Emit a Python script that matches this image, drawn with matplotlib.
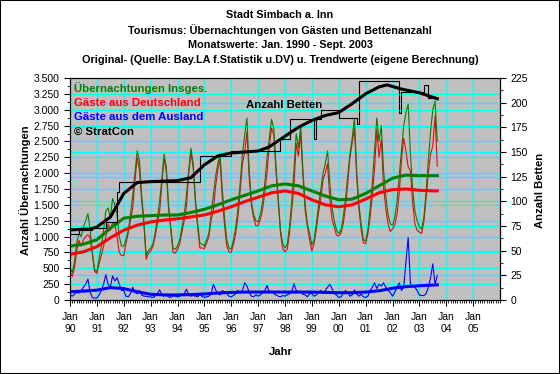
import numpy as np
import matplotlib
matplotlib.use("Agg")
import matplotlib.pyplot as plt
from matplotlib.patches import Rectangle
from matplotlib.ticker import FuncFormatter, MultipleLocator

plt.rcParams['font.family'] = ['Liberation Sans', 'DejaVu Sans']

# Monatswerte Jan 1990 - Sept 2003
insges = [
    520, 430, 600, 900, 1050, 1000, 1150, 1250, 1360, 1100, 750, 480,      # 1990
    450, 650, 850, 1100, 1400, 1450, 1300, 1600, 1500, 1350, 1000, 850,    # 1991
    850, 950, 1100, 1350, 1650, 2000, 2350, 2200, 1650, 1250, 700, 780,    # 1992
    820, 880, 1050, 1300, 1550, 1900, 2300, 2100, 1500, 1150, 820, 800,    # 1993
    850, 950, 1150, 1350, 1650, 2050, 2390, 2150, 1600, 1200, 900, 880,    # 1994
    850, 950, 1050, 1350, 1650, 1950, 2150, 2300, 1750, 1300, 950, 820,    # 1995
    800, 950, 1150, 1450, 1850, 2300, 2600, 2870, 2050, 1550, 1350, 1250,  # 1996
    1230, 1350, 1550, 1850, 2250, 2550, 2850, 2700, 2100, 1600, 1100, 880, # 1997
    820, 880, 1150, 1550, 2050, 2620, 2400, 2740, 2050, 1500, 1200, 1050,  # 1998
    870, 950, 1200, 1500, 1750, 2000, 2150, 2350, 1850, 1450, 1250, 1100,  # 1999
    1050, 1100, 1300, 1600, 1950, 2300, 2550, 2870, 2050, 1500, 1200, 950, # 2000
    930, 1100, 1450, 1850, 2350, 2870, 2500, 2750, 2050, 1650, 1350, 1200, # 2001
    1180, 1300, 1550, 1950, 2350, 2750, 2950, 3090, 2300, 1750, 1400, 1250,# 2002
    1150, 1120, 1300, 1700, 2200, 2650, 3000, 3140, 2500,                  # 2003
]
deutschland = [
    440, 370, 510, 780, 940, 850, 950, 1000, 1030, 980, 710, 450,
    420, 570, 700, 850, 1000, 1200, 1100, 1220, 1200, 1000, 750, 700,
    700, 890, 1050, 1250, 1450, 1880, 2250, 2050, 1570, 1190, 640, 730,
    770, 840, 990, 1200, 1390, 1810, 2240, 2020, 1450, 1110, 750, 740,
    800, 890, 1070, 1250, 1480, 1970, 2330, 2080, 1540, 1150, 820, 820,
    810, 900, 990, 1260, 1400, 1790, 2050, 2220, 1600, 1180, 850, 760,
    750, 880, 1050, 1300, 1730, 2150, 2330, 2650, 1930, 1490, 1300, 1170,
    1170, 1270, 1430, 1700, 2020, 2430, 2710, 2600, 2020, 1540, 1050, 810,
    760, 800, 1050, 1420, 1790, 2470, 2270, 2620, 1960, 1420, 1150, 950,
    770, 890, 1120, 1380, 1600, 1900, 2000, 2150, 1600, 1270, 1150, 1020,
    1010, 1050, 1200, 1450, 1830, 2240, 2470, 2710, 1950, 1440, 1110, 900,
    890, 1040, 1300, 1650, 2080, 2690, 2250, 2530, 1780, 1450, 1200, 1080,
    1120, 1180, 1350, 1680, 2200, 2550, 2350, 2100, 2040, 1530, 1200, 1100,
    1070, 1050, 1230, 1600, 2000, 2300, 2430, 2900, 2110,
]
ausland = [
    80, 60, 90, 120, 110, 150, 200, 250, 330, 120, 40, 30,
    30, 80, 150, 250, 400, 250, 200, 380, 300, 350, 250, 150,
    150, 60, 50, 100, 200, 120, 100, 150, 80, 60, 60, 50,
    50, 40, 60, 100, 160, 90, 60, 80, 50, 40, 70, 60,
    50, 60, 80, 100, 170, 80, 60, 70, 60, 50, 80, 60,
    40, 50, 60, 90, 250, 160, 100, 80, 150, 120, 100, 60,
    50, 70, 100, 150, 120, 150, 270, 220, 120, 60, 50, 80,
    60, 80, 120, 150, 230, 120, 140, 100, 80, 60, 50, 70,
    60, 80, 100, 130, 260, 150, 130, 120, 90, 80, 50, 100,
    100, 60, 80, 120, 150, 100, 150, 200, 250, 180, 100, 80,
    40, 50, 100, 150, 120, 60, 80, 160, 100, 60, 90, 50,
    40, 60, 150, 200, 270, 180, 250, 220, 270, 200, 150, 120,
    60, 120, 200, 270, 150, 200, 600, 990, 260, 220, 200, 150,
    80, 70, 70, 100, 200, 350, 570, 240, 390,
]

# Trendwerte
trend_jahr = [1990.0, 1990.5, 1991.0, 1991.5, 1992.0, 1992.5, 1993.0, 1993.5,
              1994.0, 1994.5, 1995.0, 1995.5, 1996.0, 1996.5, 1997.0, 1997.5,
              1998.0, 1998.5, 1999.0, 1999.5, 2000.0, 2000.5, 2001.0, 2001.5,
              2002.0, 2002.5, 2003.0, 2003.5, 2003.67]
trend_insges = [850, 880, 950, 1130, 1290, 1320, 1330, 1340, 1340, 1380, 1430,
                1500, 1580, 1650, 1720, 1800, 1830, 1800, 1720, 1640, 1580, 1590,
                1680, 1800, 1920, 1970, 1960, 1960, 1960]
trend_deutschland = [720, 760, 840, 980, 1100, 1180, 1230, 1260, 1280, 1310, 1340,
                     1400, 1470, 1550, 1620, 1690, 1720, 1680, 1580, 1500, 1470,
                     1500, 1590, 1690, 1740, 1750, 1730, 1720, 1720]
trend_ausland = [130, 140, 155, 195, 180, 130, 90, 80, 80, 85, 95, 110, 120, 125,
                 125, 125, 125, 125, 125, 120, 115, 115, 125, 145, 185, 210, 225,
                 235, 240]

# Betten (rechte Achse)
betten_jahr = [1990.0, 1990.33, 1990.83, 1991.33, 1991.75, 1991.83, 1994.83,
               1996.0, 1997.83, 1998.17, 1999.08, 1999.17, 1999.33, 2000.0,
               2000.67, 2000.75, 2002.25, 2002.33, 2003.17, 2003.33, 2003.67]
betten = [67, 71, 73, 79, 109, 120, 146, 151, 163, 183, 163, 183, 193, 184,
          178, 222, 190, 211, 218, 205, 205]
trend_betten_jahr = [1990.0, 1990.75, 1991.0, 1991.5, 1992.0, 1992.5, 1993.0,
                     1994.0, 1994.5, 1995.0, 1995.5, 1996.0, 1996.5, 1997.0,
                     1997.4, 1998.0, 1998.5, 1999.0, 1999.5, 2000.0, 2000.5,
                     2001.0, 2001.5, 2001.8, 2002.3, 2003.0, 2003.67]
trend_betten = [71, 72, 74, 84, 108, 119, 120, 121, 124, 137, 146, 149, 150, 151,
                155, 166, 175, 182, 187, 190, 199, 209, 216, 218, 214, 210, 204]

jahre = list(range(1990, 2006))
monate = 1990 + np.arange(len(insges)) / 12.0

W, H = 560, 374
fig = plt.figure(figsize=(W / 100, H / 100), dpi=100, facecolor='white')
fig.patches.append(Rectangle((0, 0), 1, 1, transform=fig.transFigure,
                             fill=False, edgecolor='black', linewidth=1.5))

ax = fig.add_axes([70 / W, 1 - 300 / H, 430 / W, 222 / H])
ax.set_facecolor('#C0C0C0')
ax2 = ax.twinx()

cyan = '#00FFFF'
for j in jahre:
    ax.axvline(j, color=cyan, lw=0.9, zorder=0)
for v in range(250, 3500, 250):
    ax.axhline(v, color=cyan, lw=0.9, zorder=0)
for b in range(25, 225, 25):
    ax.axhline(b * 3500 / 225, color=cyan, lw=0.9, zorder=0)

ax.plot(monate, deutschland, color='#FF0000', lw=0.8, zorder=2)
ax.plot(monate, insges, color='#008000', lw=0.8, zorder=2)
ax.plot(monate, ausland, color='#0000FF', lw=0.8, zorder=2)
ax.plot(trend_jahr, trend_deutschland, color='#FF0000', lw=2.2, zorder=3)
ax.plot(trend_jahr, trend_insges, color='#008000', lw=2.2, zorder=3)
ax.plot(trend_jahr, trend_ausland, color='#0000FF', lw=2.2, zorder=3)

ax2.plot(betten_jahr, betten, color='black', lw=0.8, drawstyle='steps-post')
ax2.plot(trend_betten_jahr, trend_betten, color='black', lw=2.2)

ax.set_xlim(1990, 2006)
ax.set_ylim(0, 3500)
ax2.set_ylim(0, 225)

ax.set_xticks(jahre)
ax.set_xticklabels(['Jan\n%02d' % (j % 100) for j in jahre])
ax.xaxis.set_minor_locator(MultipleLocator(1 / 12))
ax.yaxis.set_major_locator(MultipleLocator(250))
ax.yaxis.set_minor_locator(MultipleLocator(125))
ax.yaxis.set_major_formatter(FuncFormatter(lambda v, p: f'{int(v):,}'.replace(',', '.')))
ax2.yaxis.set_major_locator(MultipleLocator(25))
ax2.yaxis.set_minor_locator(MultipleLocator(12.5))

ax.tick_params(axis='both', which='major', labelsize=7.5, length=4, width=0.8,
               direction='out', colors='black')
ax.tick_params(axis='both', which='minor', length=2, width=0.6, direction='out')
ax.tick_params(axis='x', which='major', pad=5)
ax2.tick_params(axis='y', which='major', labelsize=7.5, length=4, width=0.8)
ax2.tick_params(axis='y', which='minor', length=2, width=0.6)
for a in (ax, ax2):
    for s in a.spines.values():
        s.set_color('black')
        s.set_linewidth(0.8)

titel = ['Stadt Simbach a. Inn',
         'Tourismus: Übernachtungen von Gästen und Bettenanzahl',
         'Monatswerte: Jan. 1990 - Sept. 2003',
         'Original- (Quelle: Bay.LA f.Statistik u.DV) u. Trendwerte (eigene Berechnung)']
for i, t in enumerate(titel):
    fig.text(0.5, 1 - (15 + 15 * i) / H, t, ha='center', va='center',
             fontsize=7.8, fontweight='bold')

bold = dict(fontsize=8.2, fontweight='bold')
legende = [('Übernachtungen Insges.', '#008000'),
           ('Gäste aus Deutschland', '#FF0000'),
           ('Gäste aus dem Ausland', '#0000FF'),
           ('© StratCon', 'black')]
for i, (t, c) in enumerate(legende):
    fig.text(74 / W, 1 - (88 + 14.7 * i) / H, t, color=c, ha='left', va='center', **bold)

fig.text(246 / W, 1 - 105 / H, 'Anzahl Betten', ha='left', va='center', **bold)
fig.text(25 / W, 1 - 190 / H, 'Anzahl Übernachtungen', rotation=90,
         ha='center', va='center', fontsize=8.1, fontweight='bold')
fig.text(540 / W, 1 - 190 / H, 'Anzahl Betten', rotation=90,
         ha='center', va='center', fontsize=8.1, fontweight='bold')
fig.text(281 / W, 1 - 352 / H, 'Jahr', ha='center', va='center',
         fontsize=8.1, fontweight='bold')

fig.savefig('out.png', dpi=100)
